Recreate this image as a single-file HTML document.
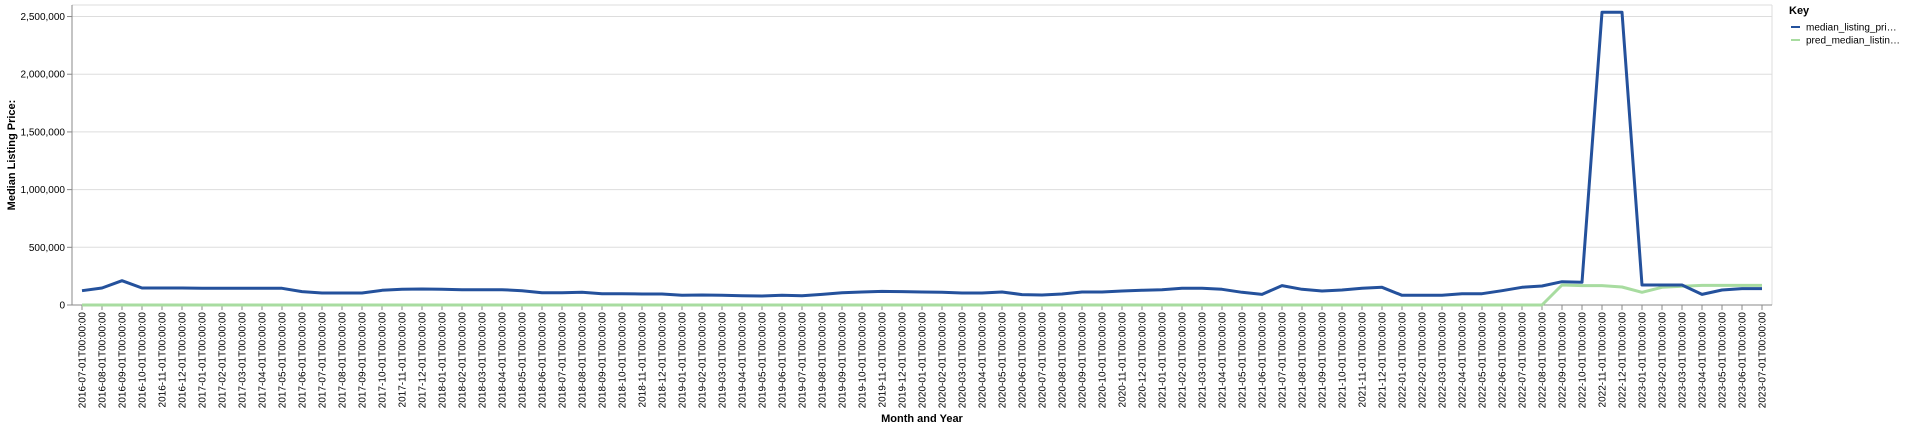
<!DOCTYPE html>
<html><head><meta charset="utf-8"><style>
html,body{margin:0;padding:0;background:#fff;}
svg{display:block;font-family:"Liberation Sans",sans-serif;}
</style></head><body>
<svg id="chart" width="1928" height="429" viewBox="0 0 1928 429"></svg>
<script>
const months = [];
for (let y = 2016, m = 7; !(y === 2023 && m > 7); m++) { if (m > 12) { m = 1; y++; } if (y === 2023 && m > 7) break; months.push(y + "-" + String(m).padStart(2, "0") + "-01T00:00:00"); }
const medianValues = [124000,147000,211000,147000,147000,147000,146000,145000,145000,145000,145000,116000,104000,104000,104000,127000,136000,139000,136000,133000,133000,133000,124000,107000,107000,110000,98000,98000,95000,95000,84000,87000,84000,81000,78000,84000,81000,92000,107000,113000,118000,116000,113000,110000,104000,104000,113000,90000,87000,95000,113000,113000,121000,127000,133000,145000,145000,136000,110000,92000,168000,136000,121000,130000,145000,153000,84000,84000,84000,98000,98000,124000,153000,165000,202000,197000,2538000,2538000,173000,173000,173000,92000,130000,142000,142000];
const predValues = [0,0,0,0,0,0,0,0,0,0,0,0,0,0,0,0,0,0,0,0,0,0,0,0,0,0,0,0,0,0,0,0,0,0,0,0,0,0,0,0,0,0,0,0,0,0,0,0,0,0,0,0,0,0,0,0,0,0,0,0,0,0,0,0,0,0,0,0,0,0,0,0,0,0,173000,168000,168000,156000,110000,153000,162000,170000,170000,170000,170000];
const yTicks = [0,500000,1000000,1500000,2000000,2500000];
const seriesNames = ["median_listing_pri…","pred_median_listin…"];
const seriesColors = ["#24519c","#a8dca0"];

const NS = "http://www.w3.org/2000/svg";
const svg = document.getElementById("chart");
const L = 72, R = 1772, T = 5, B = 305, YMAX = 2600000;
const step = (R - L) / months.length;
const xPos = i => L + step * (i + 0.5);
const yPos = v => B - (v / YMAX) * (B - T);
function mk(tag, attrs, parent) { const e = document.createElementNS(NS, tag); for (const k in attrs) e.setAttribute(k, attrs[k]); (parent || svg).appendChild(e); return e; }

// grid + y ticks
const yAxis = mk("g", {});


yTicks.forEach(v => {
  const y = yPos(v);
  if (v > 0) { const g = mk("line", {x1: L, x2: R, y1: y, y2: y, stroke: "#ddd", "stroke-width": 1}, yAxis);
    
     }
  mk("line", {x1: L - 5, x2: L, y1: y, y2: y, stroke: "#888"}, yAxis);
  const t = mk("text", {x: L - 7, y: y + 3.5, "text-anchor": "end", "font-size": 10, fill: "#000"}, yAxis);
  t.textContent = v.toLocaleString("en-US");
  
  
});
mk("line", {x1: R, x2: R, y1: T, y2: B, stroke: "#ddd"});
mk("line", {x1: L, x2: R, y1: T, y2: T, stroke: "#ddd"});
mk("line", {x1: L, x2: L, y1: T, y2: B, stroke: "#888"});
mk("line", {x1: L, x2: R, y1: B, y2: B, stroke: "#888"});

// x ticks
const xAxis = mk("g", {});


months.forEach((m, i) => {
  const x = xPos(i);
  mk("line", {x1: x, x2: x, y1: B, y2: B + 5, stroke: "#888"}, xAxis);
  const t = mk("text", {transform: `translate(${x + 3.5},${B + 7}) rotate(-90)`, "text-anchor": "end", "font-size": 10, fill: "#000"}, xAxis);
  t.textContent = m;
  
  
});

// titles
const yt = mk("text", {transform: "translate(15,155) rotate(-90)", "text-anchor": "middle", "font-size": 11, "font-weight": "bold"});
yt.textContent = "Median Listing Price:";


const xt = mk("text", {x: 922, y: 422, "text-anchor": "middle", "font-size": 11, "font-weight": "bold"});
xt.textContent = "Month and Year";



// lines
[predValues, medianValues].forEach((vals, k) => {
  const idx = k === 0 ? 1 : 0;
  const d = vals.map((v, i) => (i ? "L" : "M") + xPos(i).toFixed(1) + "," + yPos(v).toFixed(1)).join("");
  const p = mk("path", {d, fill: "none", stroke: seriesColors[idx], "stroke-width": 3, "stroke-linejoin": "round"});
  
  
});

// legend
const lg = mk("g", {});


const lt = mk("text", {x: 1789, y: 14, "font-size": 11, "font-weight": "bold"}, lg);
lt.textContent = "Key";


seriesNames.forEach((n, i) => {
  const y = 27 + i * 13;
  const e = mk("g", {}, lg);
  
  
  mk("line", {x1: 1791, x2: 1800, y1: y, y2: y, stroke: seriesColors[i], "stroke-width": 2}, e);
  const t = mk("text", {x: 1806, y: y + 3.5, "font-size": 10}, e);
  t.textContent = n;
});
</script>
</body></html>
